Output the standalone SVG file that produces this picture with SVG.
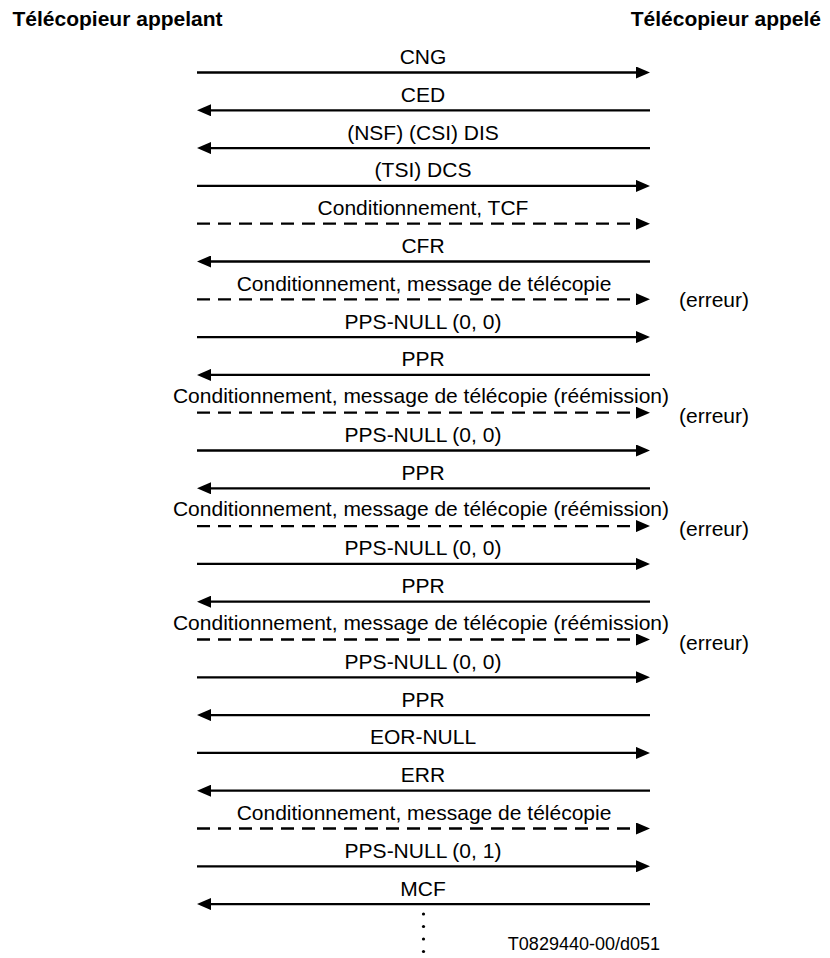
<svg xmlns="http://www.w3.org/2000/svg" width="830" height="958" viewBox="0 0 830 958">
<style>
.hdr{font-family:"Liberation Sans",Arial,sans-serif;font-weight:bold;font-size:21px;fill:#000}
.lbl{font-family:"Liberation Sans",Arial,sans-serif;font-size:21px;fill:#000;text-anchor:middle}
.err{font-family:"Liberation Sans",Arial,sans-serif;font-size:21px;fill:#000}
.ref{font-family:"Liberation Sans",Arial,sans-serif;font-size:18px;fill:#000}
.ln{stroke:#000;stroke-width:2.3;fill:none;marker-end:url(#ah)}
.ds{stroke-dasharray:13 8}
</style>
<defs>
<marker id="ah" viewBox="0 0 14 12" refX="4" refY="6" markerWidth="14" markerHeight="12" markerUnits="userSpaceOnUse" orient="auto">
<path d="M0,0 L14,6 L0,12 z" fill="#000"/>
</marker>
</defs>
<rect width="830" height="958" fill="#fff"/>
<g id="node-appelant"><text class="hdr" x="12.5" y="26">Télécopieur appelant</text></g>
<g id="node-appele"><text class="hdr" x="821" y="26" text-anchor="end">Télécopieur appelé</text></g>
<g id="connectors">
<line class="ln" x1="197" y1="72.5" x2="640" y2="72.5"/>
<line class="ln" x1="650" y1="110.3" x2="207" y2="110.3"/>
<line class="ln" x1="650" y1="148.1" x2="207" y2="148.1"/>
<line class="ln" x1="197" y1="185.9" x2="640" y2="185.9"/>
<line class="ln ds" x1="197" y1="223.7" x2="640" y2="223.7"/>
<line class="ln" x1="650" y1="261.5" x2="207" y2="261.5"/>
<line class="ln ds" x1="197" y1="299.3" x2="640" y2="299.3"/>
<line class="ln" x1="197" y1="337.1" x2="640" y2="337.1"/>
<line class="ln" x1="650" y1="374.9" x2="207" y2="374.9"/>
<line class="ln ds" x1="197" y1="412.7" x2="640" y2="412.7"/>
<line class="ln" x1="197" y1="450.5" x2="640" y2="450.5"/>
<line class="ln" x1="650" y1="488.3" x2="207" y2="488.3"/>
<line class="ln ds" x1="197" y1="526.1" x2="640" y2="526.1"/>
<line class="ln" x1="197" y1="563.9" x2="640" y2="563.9"/>
<line class="ln" x1="650" y1="601.7" x2="207" y2="601.7"/>
<line class="ln ds" x1="197" y1="639.5" x2="640" y2="639.5"/>
<line class="ln" x1="197" y1="677.3" x2="640" y2="677.3"/>
<line class="ln" x1="650" y1="715.1" x2="207" y2="715.1"/>
<line class="ln" x1="197" y1="752.9" x2="640" y2="752.9"/>
<line class="ln" x1="650" y1="790.7" x2="207" y2="790.7"/>
<line class="ln ds" x1="197" y1="828.5" x2="640" y2="828.5"/>
<line class="ln" x1="197" y1="866.3" x2="640" y2="866.3"/>
<line class="ln" x1="650" y1="904.1" x2="207" y2="904.1"/>
</g>
<g id="labels">
<text class="lbl" x="423" y="64">CNG</text>
<text class="lbl" x="423" y="101.8">CED</text>
<text class="lbl" x="423" y="139.6">(NSF) (CSI) DIS</text>
<text class="lbl" x="423" y="177.4">(TSI) DCS</text>
<text class="lbl" x="423" y="215.2">Conditionnement, TCF</text>
<text class="lbl" x="423" y="253">CFR</text>
<text class="lbl" x="424" y="290.8">Conditionnement, message de télécopie</text>
<text class="lbl" x="423" y="328.6">PPS-NULL (0, 0)</text>
<text class="lbl" x="423" y="366.4">PPR</text>
<text class="lbl" x="421" y="402.7">Conditionnement, message de télécopie (réémission)</text>
<text class="lbl" x="423" y="442">PPS-NULL (0, 0)</text>
<text class="lbl" x="423" y="479.8">PPR</text>
<text class="lbl" x="421" y="516.1">Conditionnement, message de télécopie (réémission)</text>
<text class="lbl" x="423" y="555.4">PPS-NULL (0, 0)</text>
<text class="lbl" x="423" y="593.2">PPR</text>
<text class="lbl" x="421" y="629.5">Conditionnement, message de télécopie (réémission)</text>
<text class="lbl" x="423" y="668.8">PPS-NULL (0, 0)</text>
<text class="lbl" x="423" y="706.6">PPR</text>
<text class="lbl" x="423" y="744.4">EOR-NULL</text>
<text class="lbl" x="423" y="782.2">ERR</text>
<text class="lbl" x="424" y="820">Conditionnement, message de télécopie</text>
<text class="lbl" x="423" y="857.8">PPS-NULL (0, 1)</text>
<text class="lbl" x="423" y="895.6">MCF</text>
<text class="err" x="679" y="307">(erreur)</text>
<text class="err" x="679" y="422.7">(erreur)</text>
<text class="err" x="679" y="536.1">(erreur)</text>
<text class="err" x="679" y="649.5">(erreur)</text>
<text class="ref" x="660" y="950" text-anchor="end">T0829440-00/d051</text>
</g>
<g id="continuation" fill="#000">
<circle cx="423.5" cy="914" r="1.6"/>
<circle cx="423.5" cy="926.5" r="1.6"/>
<circle cx="423.5" cy="939" r="1.6"/>
<circle cx="423.5" cy="951.5" r="1.6"/>
</g>
</svg>
